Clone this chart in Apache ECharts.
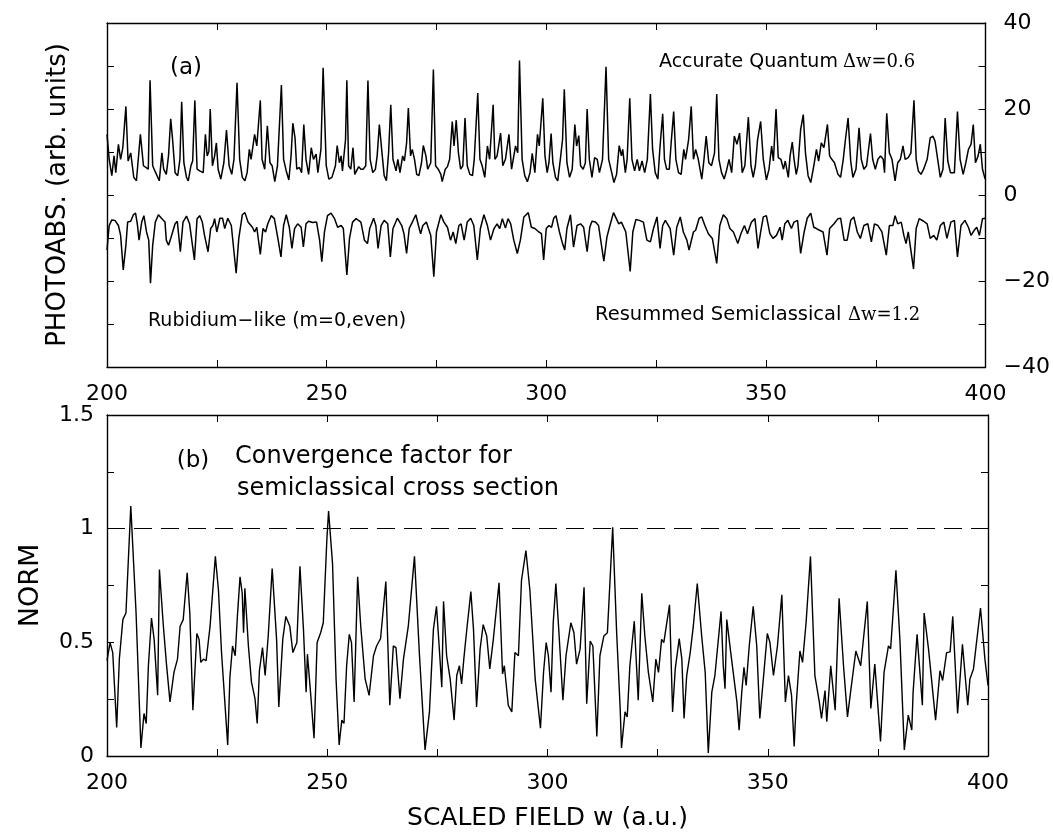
<!DOCTYPE html>
<html>
<head>
<meta charset="utf-8">
<script src="https://cdn.jsdelivr.net/npm/echarts@6/dist/echarts.min.js"></script>
<style>
html,body{margin:0;padding:0;background:#fff;}
#chart{width:1053px;height:832px;}
</style>
</head>
<body>
<div id="chart"></div>
<script>
// ---- data ----
const xTicks = [200, 250, 300, 350, 400];
const topYTicks = [-40, -20, 0, 20, 40];
const bottomYTicks = [0, 0.5, 1, 1.5];

// Accurate quantum photoabsorption (upper curve, panel a)
const quantum = [
[200,14.1],[200.5,8.3],[201.1,4.5],[201.6,9.1],[202.0,5.2],[202.6,11.8],[203.1,8.3],[203.6,11.0],[204.3,20.6],[204.8,7.9],[205.4,9.8],[206.1,4.1],[206.7,3.3],[207.6,14.1],[208.3,6.8],[209.4,6.0],[209.8,26.7],[210.4,6.8],[210.9,5.6],[211.9,3.3],[212.5,9.8],[212.9,6.0],[213.5,4.8],[214.0,9.1],[214.5,17.7],[214.9,13.3],[215.5,5.2],[216.1,4.5],[216.6,8.3],[217.0,21.7],[217.5,7.5],[218.1,4.1],[218.5,3.3],[219.1,6.8],[219.5,7.9],[220.0,22.0],[220.5,6.0],[221.1,5.6],[221.9,5.2],[222.4,14.1],[222.8,9.1],[223.2,10.2],[223.5,20.0],[224.0,6.8],[224.5,9.1],[224.9,12.1],[225.3,6.0],[225.9,3.7],[226.6,7.5],[227.2,15.1],[227.8,6.8],[228.4,4.8],[228.9,8.3],[229.6,26.1],[230.2,8.3],[230.8,4.1],[231.4,3.3],[231.9,5.2],[232.4,10.6],[232.8,8.3],[233.6,14.1],[234.1,11.4],[234.9,22.0],[235.3,8.3],[235.9,6.0],[236.5,16.1],[237.1,7.5],[237.6,6.8],[238.2,3.1],[238.8,6.8],[239.7,25.6],[240.2,8.3],[240.8,5.6],[241.4,3.5],[241.9,9.1],[242.3,16.7],[242.8,13.3],[243.2,6.0],[243.8,6.4],[244.3,5.2],[244.8,16.4],[245.3,8.3],[245.9,4.8],[246.5,11.0],[247.0,8.3],[247.6,9.5],[248.0,5.2],[248.7,10.6],[249.2,29.6],[249.9,6.9],[250.5,3.7],
[251.2,4.1],[252.0,6.8],[252.4,11.5],[252.9,7.5],[253.3,9.1],[253.6,5.6],[254.3,12.9],[254.6,26.7],[255.0,6.8],[255.5,6.0],[256.0,11.0],[256.4,4.8],[256.8,4.5],[257.3,6.6],[257.8,6.0],[258.3,6.0],[258.9,6.8],[259.4,26.6],[259.9,8.3],[260.5,5.2],[261.1,6.0],[261.5,9.1],[262.0,16.4],[262.6,9.8],[263.1,4.5],[263.6,3.3],[264.1,9.8],[264.6,21.0],[265.1,8.3],[265.8,5.6],[266.2,8.3],[266.7,5.2],[267.3,9.1],[267.7,7.9],[268.2,12.1],[268.6,20.2],[269.1,9.1],[269.5,10.6],[270.0,8.3],[270.5,4.8],[271.0,4.5],[271.6,7.5],[272.0,11.5],[272.6,9.1],[273.0,6.0],[273.7,7.5],[274.3,29.2],[274.8,6.8],[275.4,6.0],[276.0,4.8],[276.3,3.1],[277.0,6.0],[277.5,6.6],[278.0,8.3],[278.6,17.1],[279.0,11.4],[279.5,17.4],[280.0,9.8],[280.5,6.0],[281.0,6.8],[281.5,17.9],[282.0,6.8],[282.6,4.8],[283.2,4.5],[283.6,8.3],[284.4,23.7],[284.9,8.3],[285.4,6.8],[286.0,4.1],[286.6,11.4],[287.1,8.3],[287.9,21.0],[288.3,8.3],[288.8,9.1],[289.6,14.4],[290.1,6.8],[290.7,8.3],[291.5,14.1],[292.1,6.0],[293.0,11.4],[293.5,9.8],[293.9,31.3],[294.5,8.3],[295.1,4.5],[295.7,3.1],[296.3,5.2],[296.8,9.7],[297.4,5.2],[298.0,14.1],[298.4,11.4],
[299.2,22.5],[299.7,9.1],[300.2,5.2],[300.6,7.5],[301.1,14.3],[301.5,7.5],[302.1,4.1],[302.6,3.3],[303.2,8.3],[303.7,12.9],[304.1,24.6],[304.7,7.5],[305.3,4.1],[305.9,6.0],[306.5,16.4],[306.9,11.4],[307.4,13.8],[307.8,6.8],[308.4,6.0],[308.9,7.5],[309.3,20.0],[309.8,8.3],[310.4,4.1],[311.0,8.7],[311.6,8.3],[312.1,5.2],[312.8,8.3],[313.6,29.8],[314.2,8.3],[314.8,5.6],[315.4,2.9],[316.0,4.8],[316.6,11.5],[317.1,9.1],[317.4,10.6],[318.0,5.2],[318.4,8.3],[319.0,22.5],[319.5,8.3],[320.1,5.6],[320.7,8.3],[321.2,5.6],[321.8,7.9],[322.4,5.2],[323.0,8.3],[323.7,23.5],[324.2,10.6],[324.8,5.2],[325.4,3.7],[325.9,11.4],[326.5,18.9],[326.9,8.3],[327.4,6.0],[328.0,6.0],[328.4,11.8],[329.0,19.4],[329.5,8.3],[330.1,5.2],[330.7,4.8],[331.3,10.6],[331.7,8.3],[332.4,12.9],[333.0,20.6],[333.5,8.3],[334.0,10.6],[334.6,8.3],[335.4,3.7],[335.9,8.3],[336.4,13.7],[337.0,7.5],[337.6,6.8],[338.3,9.8],[338.8,23.5],[339.3,8.3],[339.9,5.2],[340.5,3.7],[341.1,6.0],[341.6,8.3],[342.2,5.2],[342.8,13.7],[343.4,11.8],[344.0,14.4],[344.6,5.2],[345.2,6.8],[346.0,18.1],[346.6,6.8],[347.1,4.1],[347.6,6.8],[348.1,12.9],
[348.8,17.1],[349.4,8.3],[350.1,3.5],[350.7,6.0],[351.3,11.4],[351.7,7.9],[352.3,20.0],[352.8,8.7],[353.4,8.3],[354.0,6.0],[354.4,7.9],[355.1,4.1],[355.5,9.1],[356.0,12.3],[356.4,8.3],[356.9,4.8],[357.3,6.8],[357.9,15.2],[358.5,18.7],[359.0,9.8],[359.6,4.5],[360.2,2.9],[360.9,6.8],[361.5,10.6],[362.0,7.9],[362.6,12.1],[363.2,11.0],[364.0,16.4],[364.5,9.1],[365.0,8.3],[365.6,7.5],[366.4,4.8],[367.0,4.1],[367.6,8.3],[368.1,12.9],[368.7,17.9],[369.3,7.9],[369.8,4.1],[370.5,6.0],[371.2,15.6],[371.7,8.3],[372.3,6.0],[372.9,6.8],[373.8,14.3],[374.3,8.3],[374.9,6.0],[375.5,8.3],[376.1,9.1],[376.7,8.3],[377.0,5.2],[377.5,19.0],[378.1,9.8],[378.7,8.3],[379.4,3.3],[380.0,7.5],[380.6,8.3],[381.2,11.4],[381.7,8.3],[382.4,8.7],[383.0,9.8],[383.7,22.0],[384.2,8.3],[384.7,5.6],[385.3,4.8],[385.9,6.0],[386.7,8.3],[387.4,13.3],[388.0,13.7],[388.5,12.5],[389.1,8.3],[389.7,4.1],[390.3,6.0],[390.8,17.9],[391.4,7.9],[392.0,5.2],[392.9,5.2],[393.6,19.4],[394.2,8.3],[394.9,4.8],[395.5,7.5],[396.1,10.6],[396.7,11.8],[397.2,16.4],[397.7,7.5],[398.3,9.1],[398.8,11.8],[399.3,6.0],[399.9,3.7]
];

// Resummed semiclassical (lower curve, panel a)
const semiclassical = [
[200,-12.8],[200.5,-7.1],[201.1,-5.8],[201.8,-5.9],[202.6,-7.1],[203.1,-9.4],[203.7,-17.4],[204.3,-11.7],[204.7,-6.3],[205.4,-6.1],[206.0,-4.6],[206.5,-4.2],[206.9,-6.7],[207.3,-10.5],[207.9,-6.3],[208.4,-4.8],[209.0,-8.6],[209.5,-10.5],[209.9,-20.5],[210.4,-11.7],[211.0,-6.3],[211.7,-4.6],[212.4,-5.4],[213.2,-6.3],[213.5,-10.5],[214.0,-11.7],[214.5,-10.1],[214.9,-10.5],[215.5,-6.7],[216.0,-6.1],[216.7,-13.2],[217.3,-6.3],[218.1,-4.9],[218.8,-6.7],[219.9,-15.1],[220.5,-5.5],[221.1,-4.8],[221.7,-6.3],[222.2,-9.4],[223.0,-13.2],[223.6,-7.8],[224.1,-7.1],[224.5,-5.5],[225.0,-8.6],[225.7,-5.4],[226.3,-5.4],[226.8,-7.8],[227.5,-5.4],[228.3,-7.1],[229.4,-18.2],[230.0,-10.1],[230.8,-4.6],[231.4,-4.1],[232.1,-6.3],[233.1,-7.5],[233.6,-8.6],[234.1,-7.5],[234.9,-13.8],[235.5,-7.8],[236.1,-8.6],[236.6,-6.7],[237.4,-4.8],[238.1,-5.5],[238.9,-10.1],[239.6,-14.4],[240.2,-7.1],[240.8,-4.6],[241.5,-7.5],[242.1,-12.4],[242.7,-7.8],[243.4,-6.7],[244.2,-7.5],[244.7,-12.1],[245.3,-6.7],[245.9,-6.1],[246.8,-6.4],[247.7,-6.3],[248.4,-10.5],[248.9,-15.5],[249.5,-8.6],[250.2,-4.8],
[251.0,-4.2],[251.8,-5.5],[252.5,-7.5],[253.3,-7.1],[253.8,-7.8],[254.6,-18.6],[255.2,-10.1],[255.9,-6.3],[256.7,-5.5],[257.8,-6.3],[258.6,-10.5],[259.3,-11.3],[259.8,-7.8],[260.7,-5.4],[261.2,-7.1],[261.7,-12.4],[262.4,-7.1],[263.1,-5.9],[263.9,-6.7],[264.5,-14.4],[265.1,-7.8],[266.1,-5.4],[267.1,-7.1],[267.6,-9.0],[268.2,-13.6],[268.8,-7.8],[269.5,-6.3],[270.3,-4.6],[270.9,-7.1],[271.4,-9.0],[271.9,-7.1],[272.7,-6.3],[273.7,-9.4],[274.4,-19.0],[275.0,-8.6],[276.0,-4.6],[276.7,-6.3],[277.5,-7.5],[278.2,-10.5],[278.8,-8.6],[279.4,-11.3],[280.1,-7.1],[280.6,-6.7],[281.3,-10.5],[282.0,-6.3],[282.8,-5.4],[283.5,-7.1],[284.3,-15.1],[285.0,-7.8],[285.8,-4.6],[286.6,-7.1],[287.3,-10.5],[288.1,-7.8],[288.8,-6.7],[289.4,-7.8],[290.0,-5.5],[290.7,-7.7],[291.3,-5.5],[291.9,-6.7],[292.6,-10.5],[293.4,-13.6],[294.1,-10.5],[294.9,-5.1],[295.9,-4.1],[296.6,-7.5],[297.4,-7.8],[298.3,-8.6],[298.9,-9.0],
[299.4,-15.1],[300.0,-7.8],[300.6,-7.1],[301.2,-7.5],[301.7,-5.4],[302.2,-4.8],[303.0,-8.6],[303.7,-11.3],[304.2,-12.8],[304.7,-7.8],[305.5,-4.6],[306.2,-12.1],[307.0,-7.1],[307.8,-6.7],[308.5,-7.5],[309.3,-13.2],[309.9,-7.5],[310.4,-6.1],[311.2,-6.3],[311.9,-7.1],[313.1,-15.4],[313.8,-9.8],[314.3,-7.8],[315.3,-4.1],[316.5,-6.7],[317.1,-6.3],[318.1,-8.6],[319.1,-17.8],[319.7,-8.6],[320.4,-5.7],[321.2,-5.9],[322.1,-6.3],[322.9,-10.5],[323.7,-10.9],[324.4,-7.8],[325.2,-5.1],[325.9,-12.4],[326.5,-7.1],[327.1,-5.9],[328.2,-7.8],[329.0,-14.0],[329.7,-7.5],[330.5,-5.1],[331.2,-8.6],[332.0,-10.5],[332.5,-12.8],[333.5,-8.6],[334.0,-8.2],[334.8,-5.4],[335.4,-5.1],[336.1,-7.1],[336.9,-9.0],[337.8,-10.1],[338.8,-15.9],[339.5,-7.1],[340.3,-4.6],[341.1,-5.5],[341.8,-7.8],[342.6,-8.6],[343.6,-11.3],[344.3,-9.0],[345.1,-7.1],[345.8,-9.0],[346.7,-6.3],[347.5,-5.5],
[348.2,-12.4],[348.8,-8.6],[349.4,-5.1],[350.1,-4.8],[350.9,-9.0],[351.6,-10.1],[352.4,-9.4],[353.2,-7.5],[353.7,-10.5],[354.3,-6.7],[355.0,-5.9],[355.8,-7.8],[356.4,-6.3],[357.2,-5.9],[357.9,-13.6],[358.7,-8.6],[359.4,-5.4],[360.2,-4.2],[360.9,-7.5],[361.5,-7.8],[362.2,-8.2],[363.0,-8.6],[363.9,-14.0],[364.5,-7.8],[365.5,-6.7],[366.4,-5.5],[367.0,-5.4],[367.8,-10.5],[368.5,-10.5],[369.3,-5.9],[370.0,-5.1],[370.8,-8.6],[371.5,-10.1],[372.3,-7.1],[373.2,-6.7],[374.0,-10.9],[374.7,-6.7],[375.5,-7.1],[376.4,-8.6],[377.4,-14.0],[378.1,-7.1],[378.9,-7.1],[379.4,-4.8],[380.0,-6.7],[380.8,-6.3],[381.4,-9.4],[381.9,-11.3],[382.4,-8.6],[383.6,-17.2],[384.2,-7.8],[384.9,-5.5],[385.9,-6.1],[386.7,-6.7],[387.4,-10.1],[388.2,-9.4],[388.9,-10.5],[389.7,-7.1],[390.5,-6.3],[391.2,-10.1],[392.1,-6.3],[392.9,-5.9],[393.6,-14.4],[394.4,-7.1],[395.3,-5.9],[396.1,-7.5],[396.7,-9.4],[397.4,-8.2],[398.0,-7.5],[398.6,-9.4],[399.3,-5.5],[399.9,-5.4]
];

// Convergence factor NORM (panel b)
const norm = [
[200,0.42],[200.7,0.499],[201.3,0.455],[202.2,0.125],[202.8,0.426],[203.6,0.600],[204.3,0.629],[205.4,1.100],[206.6,0.629],[207.7,0.035],[208.4,0.187],[208.9,0.143],[209.4,0.397],[210.1,0.607],[210.7,0.513],[211.5,0.267],[211.9,0.820],[212.8,0.571],[213.5,0.404],[214.3,0.238],[215.2,0.368],[216.0,0.426],[216.6,0.571],[217.3,0.600],[218.2,0.806],[218.8,0.629],[219.5,0.201],[220.4,0.539],[220.9,0.513],[221.3,0.412],[221.9,0.426],[222.5,0.419],[223.4,0.571],[224.6,0.878],[225.3,0.730],[226.0,0.455],[227.4,0.049],[227.9,0.346],[228.5,0.484],[229.1,0.441],[229.6,0.614],[230.2,0.788],[230.7,0.716],[231.0,0.542],[231.3,0.738],[232.1,0.484],[232.8,0.325],[233.6,0.252],[234.1,0.143],[234.6,0.375],[235.3,0.477],[235.9,0.354],[236.6,0.528],[237.5,0.825],[238.5,0.513],[239.0,0.216],[239.9,0.513],[240.6,0.614],[241.5,0.571],[242.2,0.455],[243.1,0.499],[243.8,0.835],[244.6,0.557],[245.2,0.281],[245.5,0.448],[246.2,0.281],[247.0,0.078],[247.7,0.499],[248.5,0.542],[249.1,0.586],[249.9,0.948],[250.3,1.078],
[251.2,0.846],[252.0,0.339],[252.7,0.049],[253.3,0.158],[253.8,0.143],[254.4,0.397],[255.0,0.535],[255.5,0.499],[256.1,0.238],[256.9,0.788],[257.6,0.571],[258.6,0.339],[259.5,0.267],[260.5,0.441],[261.2,0.484],[262.1,0.516],[263.3,0.767],[264.2,0.223],[265.0,0.484],[265.6,0.477],[266.5,0.252],[267.3,0.426],[268.4,0.571],[269.8,0.878],[270.9,0.455],[272.2,0.027],[273.2,0.194],[274.1,0.557],[274.8,0.658],[275.4,0.484],[276.0,0.303],[276.4,0.680],[277.1,0.441],[277.9,0.339],[278.8,0.158],[279.4,0.354],[280.0,0.397],[280.5,0.317],[281.0,0.426],[281.6,0.542],[282.6,0.723],[283.2,0.557],[283.9,0.216],[284.7,0.470],[285.4,0.578],[286.2,0.528],[286.9,0.383],[287.7,0.513],[289.0,0.762],[289.8,0.361],[290.2,0.397],[291.1,0.223],[291.9,0.194],[292.6,0.455],[293.4,0.441],[294.1,0.774],[295.1,0.904],[296.0,0.730],[297.2,0.339],[298.4,0.122],
[299.1,0.368],[299.7,0.499],[300.2,0.441],[300.8,0.281],[301.3,0.586],[301.9,0.759],[302.6,0.542],[303.5,0.245],[304.2,0.441],[305.3,0.586],[306.0,0.542],[306.6,0.404],[307.4,0.470],[308.3,0.742],[308.9,0.230],[309.7,0.506],[310.3,0.484],[311.2,0.086],[311.9,0.441],[312.8,0.528],[313.6,0.542],[314.8,1.006],[315.7,0.542],[316.5,0.209],[316.8,0.035],[317.6,0.194],[318.1,0.172],[318.7,0.397],[319.7,0.593],[320.6,0.245],[321.4,0.716],[322.1,0.528],[322.9,0.368],[323.9,0.238],[324.6,0.426],[325.2,0.368],[325.9,0.513],[326.4,0.499],[327.7,0.665],[328.4,0.194],[329.0,0.383],[329.9,0.516],[330.5,0.426],[331.0,0.165],[331.6,0.354],[332.4,0.455],[333.1,0.571],[334.0,0.759],[335.0,0.528],[335.8,0.368],[336.5,0.013],[337.3,0.281],[338.0,0.354],[339.4,0.636],[339.9,0.397],[340.3,0.296],[340.7,0.600],[341.6,0.455],[343.0,0.238],[343.5,0.114],[344.1,0.281],[344.6,0.390],[345.1,0.310],[345.8,0.484],[346.7,0.658],[347.5,0.484],[348.2,0.165],
[349.0,0.339],[349.9,0.539],[350.5,0.499],[351.3,0.354],[352.2,0.484],[353.2,0.709],[354.0,0.238],[354.7,0.354],[355.4,0.267],[356.0,0.042],[356.4,0.209],[357.3,0.462],[357.9,0.412],[358.7,0.586],[359.7,0.878],[360.7,0.354],[361.7,0.238],[362.2,0.165],[363.0,0.288],[363.4,0.151],[364.3,0.397],[365.3,0.201],[366.2,0.694],[367.2,0.397],[368.1,0.172],[368.8,0.281],[370.0,0.462],[371.1,0.397],[372.6,0.680],[373.4,0.209],[374.3,0.404],[375.6,0.064],[376.4,0.368],[377.4,0.484],[377.9,0.472],[379.1,0.817],[380.0,0.513],[381.0,0.027],[381.9,0.180],[382.7,0.114],[383.0,0.281],[383.9,0.535],[385.1,0.223],[385.5,0.629],[386.5,0.470],[388.1,0.158],[389.1,0.375],[389.7,0.332],[390.6,0.455],[391.4,0.458],[392.0,0.614],[393.1,0.187],[394.2,0.491],[395.4,0.223],[395.9,0.339],[396.7,0.383],[398.3,0.651],[399.3,0.426],[400.0,0.310]
];
const normReference = 1;

// ---- chart ----
const SANS = 'DejaVu Sans';
const lineColor = '#000';
const fmtMinus = v => String(v).replace('-', '\u2212');

function xAxis(gridIndex, position, showLabel, extra) {
  return Object.assign({
    type: 'value', gridIndex, position, min: 200, max: 400, interval: 25,
    axisLine: { show: true, onZero: false, lineStyle: { color: lineColor, width: 1.4 } },
    axisTick: { show: true, inside: true, length: 7, lineStyle: { color: lineColor, width: 1 } },
    axisLabel: {
      show: showLabel, margin: 16, color: '#000', fontFamily: SANS, fontSize: 22,
      formatter: v => xTicks.includes(v) ? String(v) : ''
    },
    splitLine: { show: false }
  }, extra || {});
}
function yAxis(gridIndex, position, min, max, interval, labels, showLabel, margin, extra) {
  return Object.assign({
    type: 'value', gridIndex, position, min, max, interval,
    axisLine: { show: true, onZero: false, lineStyle: { color: lineColor, width: 1.4 } },
    axisTick: { show: true, inside: true, length: 7, lineStyle: { color: lineColor, width: 1 } },
    axisLabel: {
      show: showLabel, margin, color: '#000', fontFamily: SANS, fontSize: 22,
      formatter: v => labels.some(t => Math.abs(t - v) < 1e-9) ? fmtMinus(v) : ''
    },
    splitLine: { show: false }
  }, extra || {});
}

const chart = echarts.init(document.getElementById('chart'), null, { renderer: 'canvas' });
chart.setOption({
  backgroundColor: '#fff',
  animation: false,
  grid: [
    { left: 107, right: 65, top: 23, height: 344 },
    { left: 107, right: 65, top: 415, height: 342 }
  ],
  xAxis: [
    xAxis(0, 'bottom', true),
    xAxis(0, 'top', false),
    xAxis(1, 'bottom', true, {
      name: 'SCALED FIELD w (a.u.)', nameLocation: 'middle', nameGap: 50,
      nameTextStyle: { color: '#000', fontFamily: SANS, fontSize: 25 }
    }),
    xAxis(1, 'top', false)
  ],
  yAxis: [
    yAxis(0, 'left', -40, 40, 10, topYTicks, false, 18, {
      name: 'PHOTOABS. (arb. units)', nameLocation: 'middle', nameGap: 36, nameRotate: 90,
      nameTextStyle: { color: '#000', fontFamily: SANS, fontSize: 26 }
    }),
    yAxis(0, 'right', -40, 40, 10, topYTicks, true, 18),
    yAxis(1, 'left', 0, 1.5, 0.25, bottomYTicks, true, 13, {
      name: 'NORM', nameLocation: 'middle', nameGap: 63, nameRotate: 90,
      nameTextStyle: { color: '#000', fontFamily: SANS, fontSize: 27 }
    }),
    yAxis(1, 'right', 0, 1.5, 0.25, bottomYTicks, false, 18)
  ],
  series: [
    {
      name: 'Accurate Quantum', type: 'line', xAxisIndex: 0, yAxisIndex: 1,
      data: quantum, showSymbol: false, symbol: 'none', clip: true,
      lineStyle: { color: lineColor, width: 1.5 }
    },
    {
      name: 'Resummed Semiclassical', type: 'line', xAxisIndex: 0, yAxisIndex: 1,
      data: semiclassical, showSymbol: false, symbol: 'none', clip: true,
      lineStyle: { color: lineColor, width: 1.5 }
    },
    {
      name: 'NORM', type: 'line', xAxisIndex: 2, yAxisIndex: 2,
      data: norm, showSymbol: false, symbol: 'none', clip: true,
      lineStyle: { color: lineColor, width: 1.4 },
      markLine: {
        silent: true, symbol: 'none', label: { show: false },
        lineStyle: { color: lineColor, type: [18, 9], width: 1.2 },
        data: [{ yAxis: normReference }]
      }
    }
  ],
  graphic: [
    { type: 'text', x: 186, y: 68, style: { text: '(a)', font: '23px "DejaVu Sans"', fill: '#000', textAlign: 'center', textVerticalAlign: 'middle', align: 'center', verticalAlign: 'middle' } },
    { type: 'text', x: 659, y: 62, style: { text: 'Accurate Quantum', font: '19px "DejaVu Sans"', fill: '#000', textAlign: 'left', textVerticalAlign: 'middle', align: 'left', verticalAlign: 'middle' } },
    { type: 'text', x: 843, y: 62, style: { text: '\u0394w=0.6', font: '18px "DejaVu Serif"', fill: '#000', textAlign: 'left', textVerticalAlign: 'middle', align: 'left', verticalAlign: 'middle' } },
    { type: 'text', x: 148, y: 321, style: { text: 'Rubidium\u2212like (m=0,even)', font: '19px "DejaVu Sans"', fill: '#000', textAlign: 'left', textVerticalAlign: 'middle', align: 'left', verticalAlign: 'middle' } },
    { type: 'text', x: 595, y: 315, style: { text: 'Resummed Semiclassical', font: '19.5px "DejaVu Sans"', fill: '#000', textAlign: 'left', textVerticalAlign: 'middle', align: 'left', verticalAlign: 'middle' } },
    { type: 'text', x: 848, y: 315, style: { text: '\u0394w=1.2', font: '18px "DejaVu Serif"', fill: '#000', textAlign: 'left', textVerticalAlign: 'middle', align: 'left', verticalAlign: 'middle' } },
    { type: 'text', x: 193, y: 461, style: { text: '(b)', font: '23px "DejaVu Sans"', fill: '#000', textAlign: 'center', textVerticalAlign: 'middle', align: 'center', verticalAlign: 'middle' } },
    { type: 'text', x: 235, y: 457, style: { text: 'Convergence factor for', font: '24px "DejaVu Sans"', fill: '#000', textAlign: 'left', textVerticalAlign: 'middle', align: 'left', verticalAlign: 'middle' } },
    { type: 'text', x: 237, y: 489, style: { text: 'semiclassical cross section', font: '24px "DejaVu Sans"', fill: '#000', textAlign: 'left', textVerticalAlign: 'middle', align: 'left', verticalAlign: 'middle' } }
  ]
});
</script>
</body>
</html>
